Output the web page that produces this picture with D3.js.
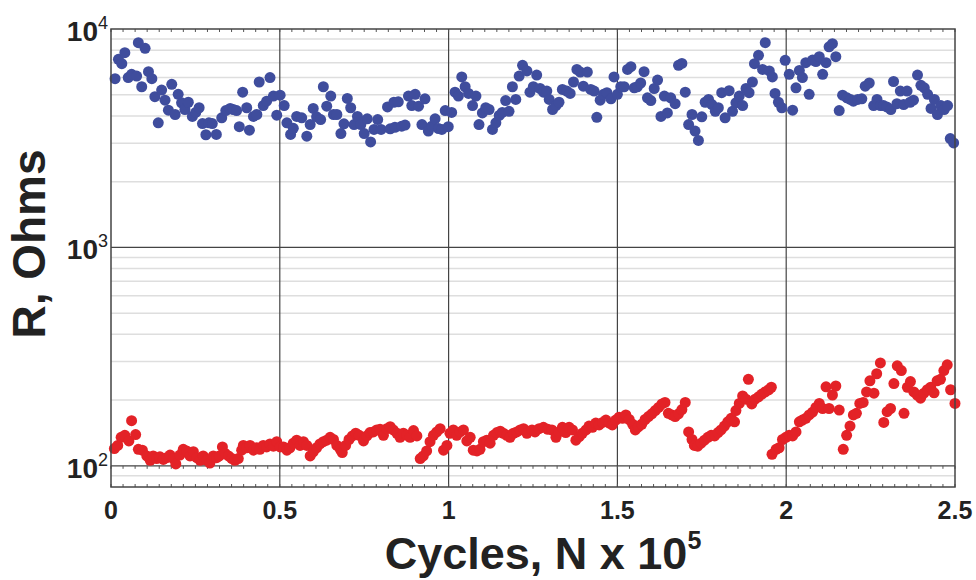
<!DOCTYPE html>
<html>
<head>
<meta charset="utf-8">
<script src="https://cdn.jsdelivr.net/npm/d3@7"></script>
<style>
body { margin: 0; background: #fff; }
svg text { font-family: "Liberation Sans", Arial, sans-serif; font-weight: bold; fill: #222; }
</style>
</head>
<body>
<div id="chart"></div>
<script>

// cycles (x 10^5) and resistance (Ohms)
var blueX = [0.012,0.022,0.032,0.041,0.051,0.061,0.076,0.081,0.091,0.101,
	0.111,0.121,0.130,0.140,0.150,0.160,0.170,0.180,0.190,0.199,
	0.209,0.219,0.229,0.241,0.251,0.261,0.271,0.281,0.290,0.300,
	0.312,0.328,0.340,0.353,0.362,0.372,0.380,0.390,0.402,0.410,
	0.422,0.432,0.439,0.451,0.461,0.471,0.481,0.491,0.501,0.513,
	0.521,0.532,0.540,0.550,0.565,0.580,0.590,0.599,0.609,0.621,
	0.629,0.639,0.651,0.659,0.669,0.681,0.690,0.700,0.710,0.720,
	0.730,0.740,0.750,0.759,0.769,0.779,0.790,0.800,0.819,0.827,
	0.838,0.841,0.851,0.861,0.871,0.881,0.891,0.901,0.911,0.921,
	0.930,0.940,0.950,0.960,0.970,0.980,0.990,0.999,1.009,1.019,
	1.029,1.039,1.049,1.059,1.071,1.081,1.090,1.100,1.110,1.120,
	1.130,1.140,1.150,1.159,1.169,1.179,1.189,1.199,1.209,1.219,
	1.232,1.241,1.251,1.261,1.271,1.281,1.291,1.298,1.308,1.318,
	1.327,1.337,1.350,1.360,1.370,1.380,1.390,1.399,1.411,1.421,
	1.431,1.439,1.449,1.459,1.469,1.481,1.490,1.500,1.510,1.520,
	1.530,1.540,1.550,1.559,1.569,1.579,1.589,1.599,1.609,1.619,
	1.629,1.639,1.648,1.658,
	1.671,1.681,1.691,1.701,1.711,1.721,1.730,1.740,1.750,1.760,
	1.770,1.780,1.790,1.799,1.809,1.819,1.831,1.841,1.851,1.861,
	1.871,1.881,1.890,1.900,1.906,1.918,1.930,1.938,1.950,1.959,
	1.967,1.977,1.987,1.997,2.009,2.019,2.029,2.039,2.048,2.058,
	2.068,2.078,2.088,2.098,2.108,2.118,2.127,2.137,2.147,2.157,
	2.167,2.180,2.190,2.199,2.212,2.224,2.234,2.246,2.259,2.269,
	2.279,2.288,2.298,2.310,2.318,2.328,2.338,2.348,2.358,2.367,
	2.377,2.389,2.399,2.409,2.419,2.429,2.439,2.448,2.458,2.468,
	2.478,2.486,2.496];

var blueR = [5920,7260,6940,7790,5990,6200,6090,8660,5440,8160,
	6380,5920,4900,3720,5250,4720,4250,5580,4060,5020,
	4590,4280,4620,3980,4150,4360,3690,3280,3720,3690,
	3290,3920,4230,4330,4280,4230,3570,5140,4360,3440,
	3980,4060,5720,4460,4670,5990,4930,4030,4980,4460,
	3720,3290,3510,3980,3920,3230,3650,4330,3960,3850,
	5440,4430,4930,4060,4060,3320,3680,4810,4360,3650,
	3980,3650,3320,3880,3040,3470,3850,3470,4400,3490,
	4620,3550,4640,3590,3630,4930,4460,5020,4430,3650,
	4790,3410,3590,3880,3500,3470,4230,3570,4150,5140,
	4930,6030,5440,5070,4460,4930,3650,4130,4360,4280,
	3470,3720,4020,4150,4700,4200,5440,4760,6090,6820,
	6430,5140,5440,6150,5340,5140,5200,4760,4280,4460,
	4620,5290,5200,5070,5720,6530,6350,5470,6350,5290,
	5200,3940,4720,5020,5110,4790,6030,5020,5440,5440,
	6530,6720,5380,5440,5660,6380,4840,4700,5340,5840,
	3980,4930,4130,4840,
	4550,6820,6960,5140,3650,4060,3410,3090,3960,4620,
	4760,4510,4200,4360,5110,3920,5220,4200,4590,4930,
	4460,5340,5110,5720,6940,7580,6530,8660,6430,6030,
	5070,4620,4360,7190,6200,4250,5380,6460,5990,7010,
	5020,7210,7090,7470,6200,7010,8290,8570,7470,4230,
	4980,4840,4760,4670,4760,4790,5470,5660,4460,4760,
	4460,4460,4400,4280,5750,4550,5200,4510,5200,4620,
	4720,6150,5520,5380,5020,4330,4760,4060,4460,4280,
	4460,3150,3010];

var redX = [0.010,0.020,0.030,0.041,0.053,0.061,0.073,0.081,0.093,0.106,
	0.116,0.125,0.135,0.145,0.155,0.165,0.175,0.185,0.192,0.204,
	0.214,0.224,0.234,0.244,0.254,0.264,0.273,0.284,0.293,0.303,
	0.313,0.321,0.330,0.338,0.348,0.358,0.367,0.377,0.387,0.392,
	0.402,0.412,0.422,0.432,0.441,0.451,0.461,0.471,0.481,0.491,
	0.501,0.511,0.521,0.530,0.540,0.550,0.560,0.570,0.580,0.590,
	0.599,0.609,0.619,0.629,0.639,0.649,0.659,0.669,0.679,0.685,
	0.695,0.705,0.715,0.725,0.735,0.748,0.758,0.767,0.777,0.787,
	0.797,0.807,0.817,0.827,0.836,0.847,0.856,0.866,0.876,0.886,
	0.896,0.906,0.916,0.925,0.935,0.945,0.955,0.965,0.975,0.985,
	0.995,1.004,1.014,1.024,1.034,1.044,1.054,1.064,1.073,1.084,
	1.093,1.103,1.113,1.123,1.133,1.143,1.153,1.162,1.172,1.182,
	1.192,1.202,1.212,1.222,1.232,1.247,1.256,1.268,1.281,1.294,
	1.306,1.318,1.327,1.337,1.347,1.357,1.367,1.377,1.387,1.396,
	1.407,1.416,1.426,1.436,1.446,1.456,1.466,1.476,1.485,1.495,
	1.505,1.515,1.525,1.535,1.545,1.553,1.562,1.572,1.582,1.592,
	1.602,1.612,1.622,1.632,1.641,1.651,1.661,1.671,1.681,1.691,
	1.701,1.711,1.721,1.728,1.738,1.748,1.758,1.768,1.778,1.788,
	1.798,1.807,1.817,1.827,1.837,1.847,1.851,1.861,1.871,1.881,
	1.888,1.898,1.908,1.918,1.928,1.938,1.948,1.956,1.958,1.970,
	1.979,1.989,1.999,2.009,2.019,2.029,2.039,2.048,2.058,2.068,
	2.078,2.088,2.098,2.108,2.118,2.127,2.137,2.147,2.157,2.169,
	2.179,2.189,2.199,2.208,2.218,2.228,2.238,2.248,2.260,2.268,
	2.279,2.289,2.299,2.309,2.319,2.329,2.341,2.349,2.359,2.368,
	2.378,2.388,2.398,2.408,2.418,2.428,2.438,2.447,2.457,2.467,
	2.477,2.487,2.500];

var redR = [120,124,135,138,130,161,139,119,118,111,
	106,111,108,110,107,109,112,108,102,112,
	119,117,111,116,109,106,111,106,103,111,
	109,111,122,114,111,108,106,108,118,124,
	121,124,118,121,119,124,122,126,123,129,
	122,122,118,121,127,131,124,129,124,111,
	116,121,126,129,131,135,132,124,119,115,
	124,132,137,141,138,130,137,142,143,146,
	147,138,148,151,146,141,135,141,138,135,
	145,137,108,111,117,129,138,143,148,118,
	124,141,146,138,143,146,130,135,118,117,
	119,129,131,127,138,142,144,141,138,135,
	141,143,146,148,141,146,143,148,150,147,
	146,135,143,150,142,150,146,131,136,141,
	146,152,150,157,154,158,162,157,154,162,
	167,165,171,163,155,146,151,155,163,168,
	173,179,185,192,195,174,171,168,173,181,
	195,143,132,124,123,127,131,135,138,137,
	142,146,152,159,165,159,179,193,209,202,
	249,192,202,207,213,218,223,229,113,119,
	121,132,135,138,137,143,159,162,165,171,
	176,185,193,183,230,183,211,232,180,119,
	138,152,171,174,193,195,218,245,215,264,
	296,158,177,183,238,287,273,174,229,243,
	218,211,204,215,223,229,216,245,249,273,
	290,223,193];

var xTicks = [0, 0.5, 1, 1.5, 2, 2.5];
var xTickLabels = ["0", "0.5", "1", "1.5", "2", "2.5"];
var yTicks = [100, 1000, 10000];
var yTickExp = ["2", "3", "4"];

function drawChart() {

	var width = 976, height = 580;
	var left = 111, right = 955, top = 29, bottom = 487;

	var svg = d3.select("#chart").append("svg")
		.attr("width", width)
		.attr("height", height);

	var x = d3.scaleLinear().domain([0, 2.5]).range([left, right]);
	var y = d3.scaleLog().domain([80, 10000]).range([bottom, top]);

	// light minor grid, 2..9 in every decade
	var minor = [];
	[10, 100, 1000].forEach(function(d) {
		for (var k = 2; k <= 9; k++) {
			var v = k * d;
			if (v > 80 && v < 10000) minor.push(v);
		}
	});

	svg.append("g").selectAll("line")
		.data(minor)
		.enter().append("line")
		.attr("x1", left).attr("x2", right)
		.attr("y1", function(d) { return y(d); })
		.attr("y2", function(d) { return y(d); })
		.attr("stroke", "#dedede")
		.attr("stroke-width", 1.5);

	// major grid
	svg.append("g").selectAll("line")
		.data([100, 1000])
		.enter().append("line")
		.attr("x1", left).attr("x2", right)
		.attr("y1", function(d) { return y(d); })
		.attr("y2", function(d) { return y(d); })
		.attr("stroke", "#444")
		.attr("stroke-width", 1.2);

	svg.append("g").selectAll("line")
		.data(xTicks.slice(1, -1))
		.enter().append("line")
		.attr("x1", function(d) { return x(d); })
		.attr("x2", function(d) { return x(d); })
		.attr("y1", top).attr("y2", bottom)
		.attr("stroke", "#444")
		.attr("stroke-width", 1.2);

	// small x ticks along top, the 10^2 line and the bottom
	var small = d3.range(0, 2.5001, 0.5 / 14);
	var tickRows = [[top, 3], [y(100), 3], [bottom, -3]];
	tickRows.forEach(function(r) {
		svg.append("g").selectAll("line")
			.data(small)
			.enter().append("line")
			.attr("x1", function(d) { return x(d); })
			.attr("x2", function(d) { return x(d); })
			.attr("y1", r[0]).attr("y2", r[0] + r[1])
			.attr("stroke", "#555")
			.attr("stroke-width", 1);
	});

	// points
	var blue = blueX.map(function(d, i) { return [d, blueR[i]]; });
	var red = redX.map(function(d, i) { return [d, redR[i]]; });

	svg.append("g").selectAll("circle")
		.data(blue)
		.enter().append("circle")
		.attr("cx", function(d) { return x(d[0]); })
		.attr("cy", function(d) { return y(d[1]); })
		.attr("r", 5.5)
		.attr("fill", "#3f4d9d");

	svg.append("g").selectAll("circle")
		.data(red)
		.enter().append("circle")
		.attr("cx", function(d) { return x(d[0]); })
		.attr("cy", function(d) { return y(d[1]); })
		.attr("r", 5.5)
		.attr("fill", "#e32227");

	// frame
	svg.append("rect")
		.attr("x", left).attr("y", top)
		.attr("width", right - left).attr("height", bottom - top)
		.attr("fill", "none")
		.attr("stroke", "#444")
		.attr("stroke-width", 1.5);

	// x tick labels
	svg.append("g").selectAll("text")
		.data(xTicks)
		.enter().append("text")
		.attr("x", function(d) { return x(d); })
		.attr("y", 519)
		.attr("text-anchor", "middle")
		.style("font-size", "25px")
		.text(function(d, i) { return xTickLabels[i]; });

	// y tick labels, 10 with exponent
	var ylab = svg.append("g").selectAll("text")
		.data(yTicks)
		.enter().append("text")
		.attr("x", 108)
		.attr("y", function(d) { return y(d) + 12; })
		.attr("text-anchor", "end")
		.style("font-size", "28px");
	ylab.append("tspan").text("10");
	ylab.append("tspan")
		.attr("dy", -12)
		.style("font-size", "18px")
		.style("font-weight", "normal")
		.text(function(d, i) { return yTickExp[i]; });

	// axis titles
	var xt = svg.append("text")
		.attr("x", 543)
		.attr("y", 569)
		.attr("text-anchor", "middle")
		.style("font-size", "45px");
	xt.append("tspan").text("Cycles, N x 10");
	xt.append("tspan")
		.attr("dy", -20)
		.style("font-size", "25px")
		.text("5");

	svg.append("text")
		.attr("transform", "translate(45,244) rotate(-90)")
		.attr("text-anchor", "middle")
		.style("font-size", "46px")
		.text("R, Ohms");
}

drawChart();
</script>
</body>
</html>
